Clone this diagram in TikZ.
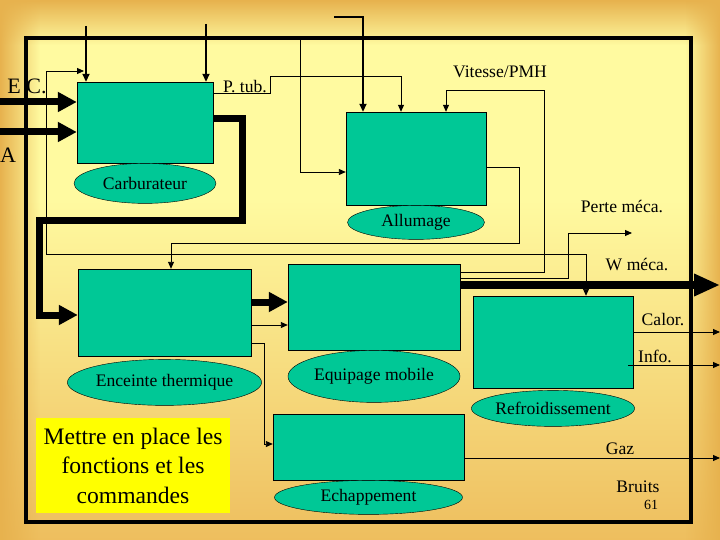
\documentclass[tikz,border=0pt]{standalone}
\usepackage{fontspec}
\setmainfont{Liberation Serif}
\usepackage{tikz}
\usetikzlibrary{positioning,shapes.geometric,arrows.meta,fadings}

\definecolor{paleyellow}{RGB}{255,250,160}
\definecolor{deeporange}{RGB}{238,190,94}
\definecolor{edgeorange}{RGB}{231,178,78}
\definecolor{boxgreen}{RGB}{0,200,150}
\definecolor{notefill}{RGB}{255,255,0}

\tikzfading[name=fadetop, top color=transparent!0, bottom color=transparent!100]
\tikzfading[name=fadeleft, left color=transparent!0, right color=transparent!100]
\tikzfading[name=faderight, left color=transparent!100, right color=transparent!0]

\begin{document}
\begin{tikzpicture}
    [ x = 1pt, y = -1pt
    , block/.style =
      { draw, fill = boxgreen, inner sep = 0pt }
    , blob/.style =
      { draw, ellipse, fill = boxgreen, inner sep = 0pt
      , font = \fontsize{17.6}{20}\selectfont }
    , tag/.style =
      { inner sep = 0pt, font = \fontsize{17.6}{20}\selectfont }
    , note/.style =
      { fill = notefill, align = center, inner sep = 0pt
      , font = \fontsize{23.6}{29.5}\selectfont }
    , frame/.style =
      { line width = 4pt }
    , link/.style =
      { line width = .9pt, -{Triangle[length=7pt,width=6pt]} }
    , feed/.style =
      { line width = 1.8pt, -{Triangle[length=8pt,width=7pt]} }
    , flow/.style =
      { line width = 7pt, -{Triangle[length=19pt,width=19pt]} }
    , bigflow/.style =
      { line width = 8pt, -{Triangle[length=26pt,width=21pt]} }
    ]
    \useasboundingbox (0,0) rectangle (720,540);

    % background
    \fill [paleyellow] (0,0) rectangle (720,540);
    \shade [top color=paleyellow, bottom color=deeporange] (0,200) rectangle (720,540);
    \fill [edgeorange, path fading=fadetop] (0,0) rectangle (720,45);
    \fill [edgeorange, path fading=fadeleft] (0,0) rectangle (40,540);
    \fill [edgeorange, path fading=faderight] (685,0) rectangle (720,540);

    \draw [frame] (26,38) rectangle (691,522);

    % blocks
    \node [block, minimum width=136pt, minimum height=81pt] (carb) at (145,122.5) {};
    \node [blob, minimum width=142pt, minimum height=40pt] (carbtxt) [below=0pt of carb] {Carburateur};
    \node [block, minimum width=140pt, minimum height=93pt] (allum) at (416,158.5) {};
    \node [blob, minimum width=137pt, minimum height=34pt] (allumtxt) [below=0pt of allum] {Allumage};
    \node [block, minimum width=173pt, minimum height=87pt] (encei) at (164.5,312.5) {};
    \node [blob, minimum width=170pt, minimum height=46pt] (enceitxt) [below=3pt of encei] {Enceinte thermique};
    \node [block, minimum width=172pt, minimum height=86pt] (equip) at (374,307) {};
    \node [blob, minimum width=172pt, minimum height=52pt] (equiptxt) [below=0pt of equip] {Equipage mobile};
    \node [block, minimum width=160pt, minimum height=92pt] (refro) at (553,342) {};
    \node [blob, minimum width=162pt, minimum height=36pt] (refrotxt) [below=2pt of refro] {Refroidissement};
    \node [block, minimum width=191pt, minimum height=66pt] (echap) at (368.5,447) {};
    \node [blob, minimum width=188pt, minimum height=34pt] (echaptxt) [below=0pt of echap] {Echappement};

    \node [note, minimum width=194pt, minimum height=95pt] (todo) at (133,465.5)
      {Mettre en place les\\fonctions et les\\commandes};

    % free ends
    \coordinate (ecin) at (0,102);
    \coordinate (ain) at (0,132);
    \coordinate (topa) at (86,26);
    \coordinate (topb) at (206,24);
    \coordinate (topc) at (334,17);
    \coordinate (fbranch) at (300,38);
    \coordinate (ecpt) at (84,71);
    \coordinate (tjoin) at (46,254);
    \coordinate (cbend) at (242,221);
    \coordinate (cleft) at (39,315);
    \coordinate (ptub) at (270,76);
    \coordinate (vbend) at (544,90);
    \coordinate (pbend) at (568,233);
    \coordinate (perte) at (632,233);
    \coordinate (abend) at (519,243);
    \coordinate (wout) at (720,285);
    \coordinate (calout) at (720,332);
    \coordinate (infout) at (720,365);
    \coordinate (gazout) at (720,458);

    % connectors
    \draw [flow] (ecin) -- (ecin -| carb.west);
    \draw [flow] (ain) -- (ain -| carb.west);
    \draw [feed] (topa) -- (topa |- carb.north);
    \draw [feed] (topb) -- (topb |- carb.north);
    \draw [link, {Triangle[length=7pt,width=6pt]}-{Triangle[length=7pt,width=6pt]}]
      (ecpt) -| (tjoin) -| ([xshift=33pt]refro.north);
    \draw [flow] ([yshift=3.5pt]carb.east) -| (cbend) -| (cleft) -- (cleft -| encei.west);
    \draw [link] ([yshift=29.5pt]carb.east) -| (ptub) -| ([xshift=-15pt]allum.north);
    \draw [feed] (topc) -| ([xshift=-53pt]allum.north);
    \draw [link] (fbranch) |- ([yshift=-13.5pt]allum.west);
    \draw [link] ([yshift=35pt]equip.east) -| (vbend) -| ([xshift=30pt]allum.north);
    \draw [link] ([yshift=29pt]equip.east) -| (pbend) -- (perte);
    \draw [bigflow] ([yshift=22pt]equip.east) -- (wout);
    \draw [link] ([yshift=-8.5pt]allum.east) -| (abend) -| ([xshift=6.5pt]encei.north);
    \coordinate (ee) at ([yshift=10.5pt]encei.east);
    \draw [flow] (ee) -- (ee -| equip.west);
    \coordinate (ef) at ([yshift=-12.5pt]encei.east);
    \draw [link] (ef) -- (ef -| equip.west);
    \coordinate (ex) at ([yshift=-30.5pt]encei.east);
    \draw [link] (ex) -- ++(13,0) |- ([yshift=3pt]echap.west);
    \draw [link] ([yshift=10pt]refro.east) -- (calout);
    \draw [link] ([xshift=-5pt,yshift=-23pt]refro.east) -- (infout);
    \draw [link] ([yshift=-11pt]echap.east) -- (gazout);

    % labels
    \node [tag, font=\fontsize{22}{24}\selectfont] (ec) at (27,86) {E C.};
    \node [tag, font=\fontsize{22}{24}\selectfont] (air) at (8,155) {A};
    \node [tag] (ptubtxt) at (245,87) {P. tub.};
    \node [tag] (vit) at (500,72) {Vitesse/PMH};
    \node [tag] (pertetxt) at (622,207) {Perte méca.};
    \node [tag] (wmeca) at (637,265) {W méca.};
    \node [tag] (calor) at (663,320) {Calor.};
    \node [tag] (info) at (655,356) {Info.};
    \node [tag] (gaz) at (620,449) {Gaz};
    \node [tag] (bruit) at (638,487) {Bruits};
    \node [tag, font=\fontsize{14}{16}\selectfont] (page) at (651,505) {61};
\end{tikzpicture}
\end{document}
